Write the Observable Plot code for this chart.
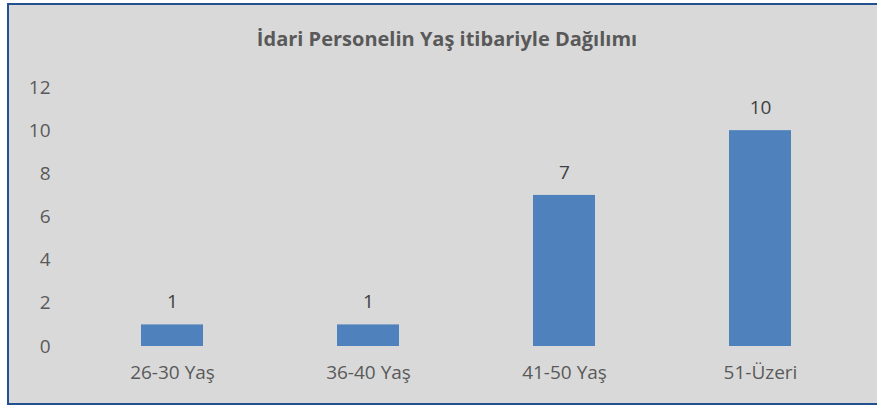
<!DOCTYPE html>
<html>
<head>
<meta charset="utf-8">
<script src="https://cdn.jsdelivr.net/npm/d3@7"></script>
<script src="https://cdn.jsdelivr.net/npm/@observablehq/plot@0.6"></script>
<style>
  html, body { margin: 0; padding: 0; background: #ffffff; width: 877px; height: 405px; overflow: hidden; }
  #frame { position: absolute; left: 7px; top: 3px; width: 900px; height: 398px; background: #d9d9d9;
           border: 2px solid #23508f; border-right: none; box-sizing: content-box; }
  #title { position: absolute; left: 0; top: 26px; width: 894px; text-align: center;
           font-family: "Open Sans", sans-serif; font-weight: bold; font-size: 20px; color: #595959; line-height: 26px; }
  #chart { position: absolute; left: 0; top: 60px; }
</style>
</head>
<body>
<div id="frame"></div>
<div id="title">İdari Personelin Yaş itibariyle Dağılımı</div>
<div id="chart"></div>
<script>
const categories = ["26-30 Yaş", "36-40 Yaş", "41-50 Yaş", "51-Üzeri"];
const values = [1, 1, 7, 10];
const yTicks = [0, 2, 4, 6, 8, 10, 12];

const data = categories.map((c, i) => ({ category: c, value: values[i] }));

const chart = Plot.plot({
  width: 877,
  height: 340,
  marginTop: 27,
  marginBottom: 54,
  marginLeft: 73,
  marginRight: 19,
  style: { background: "transparent", fontFamily: "Open Sans, sans-serif", fontSize: "19px", color: "#595959" },
  x: { domain: categories, paddingInner: 0.684, paddingOuter: 0.342, label: null, tickSize: 0, tickPadding: 19 },
  y: { domain: [0, 12], ticks: yTicks, label: null, tickSize: 0, tickPadding: 23 },
  marks: [
    Plot.barY(data, { x: "category", y: "value", fill: "#4f81bd" }),
    Plot.text(data, { x: "category", y: "value", text: d => String(d.value), dy: -23, fill: "#404040", fontSize: 19 })
  ]
});
document.getElementById("chart").appendChild(chart);
</script>
</body>
</html>
